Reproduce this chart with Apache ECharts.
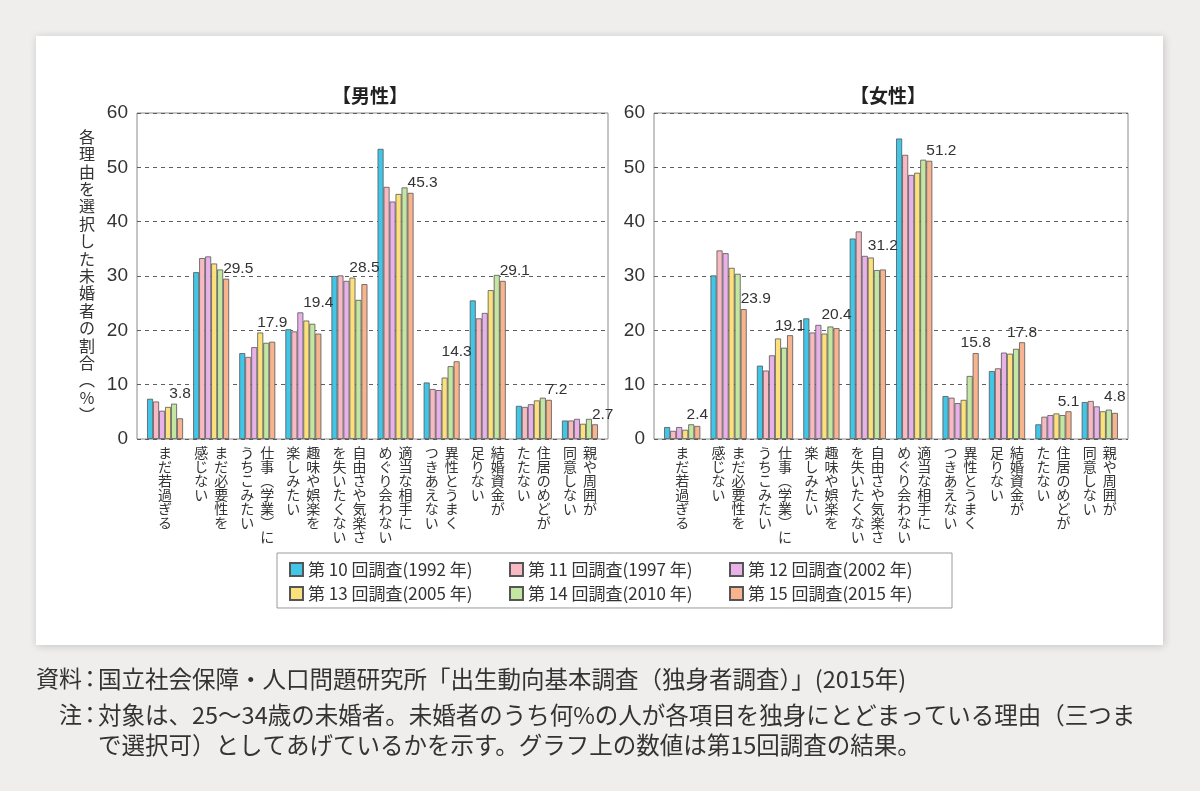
<!DOCTYPE html>
<html><head><meta charset="utf-8">
<script src="https://cdn.jsdelivr.net/npm/echarts@6/dist/echarts.min.js"></script>
<style>html,body{margin:0;padding:0;background:#f0eeec;}#c{width:1200px;height:791px;}</style>
</head><body><div id="c"></div>
<script>
// ---- data ----
const categories = ['まだ若過ぎる','まだ必要性を感じない','仕事（学業）にうちこみたい','趣味や娯楽を楽しみたい','自由さや気楽さを失いたくない','適当な相手にめぐり会わない','異性とうまくつきあえない','結婚資金が足りない','住居のめどがたたない','親や周囲が同意しない'];
const categoryColumns = [['まだ若過ぎる'],['まだ必要性を','感じない'],['仕事︵学業︶に','うちこみたい'],['趣味や娯楽を','楽しみたい'],['自由さや気楽さ','を失いたくない'],['適当な相手に','めぐり会わない'],['異性とうまく','つきあえない'],['結婚資金が','足りない'],['住居のめどが','たたない'],['親や周囲が','同意しない']];
const surveyNames = ['第 10 回調査(1992 年)','第 11 回調査(1997 年)','第 12 回調査(2002 年)','第 13 回調査(2005 年)','第 14 回調査(2010 年)','第 15 回調査(2015 年)'];
const yTickMin = 0, yTickMax = 60, yTickStep = 10;

const male1992 = [7.4, 30.7, 15.8, 20.2, 30.0, 53.4, 10.4, 25.5, 6.1, 3.4];
const male1997 = [6.9, 33.3, 15.1, 19.8, 30.1, 46.4, 9.2, 22.2, 5.9, 3.4];
const male2002 = [5.2, 33.6, 16.9, 23.3, 29.1, 43.7, 9.0, 23.2, 6.4, 3.7];
const male2005 = [5.9, 32.3, 19.6, 21.8, 29.7, 45.1, 11.3, 27.4, 7.1, 2.8];
const male2010 = [6.5, 31.2, 17.7, 21.2, 25.6, 46.3, 13.4, 30.2, 7.6, 3.7];
const male2015 = [3.8, 29.5, 17.9, 19.4, 28.5, 45.3, 14.3, 29.1, 7.2, 2.7];

const female1992 = [2.2, 30.1, 13.5, 22.2, 36.9, 55.3, 7.9, 12.5, 2.7, 6.8];
const female1997 = [1.5, 34.7, 12.6, 19.6, 38.2, 52.3, 7.6, 13.0, 4.1, 7.0];
const female2002 = [2.2, 34.2, 15.4, 21.0, 33.7, 48.6, 6.6, 15.9, 4.4, 6.0];
const female2005 = [1.7, 31.5, 18.5, 19.4, 33.4, 49.0, 7.2, 15.7, 4.7, 5.1];
const female2010 = [2.7, 30.4, 16.8, 20.7, 31.1, 51.4, 11.6, 16.6, 4.4, 5.4];
const female2015 = [2.4, 23.9, 19.1, 20.4, 31.2, 51.2, 15.8, 17.8, 5.1, 4.8];

// label placement style per category: 'c' = centred above group top, 'r' = right of last bar
const maleLabelMode = ['c','r','c','c','c','r','c','r','r','r'];
const femaleLabelMode = ['c','r','c','c','c','r','c','c','c','c'];

const yAxisTitle = '各理由を選択した未婚者の割合︵％︶';
const noteHeads = ['資料', '注', ''];
const noteBodies = [
  '国立社会保障・人口問題研究所「出生動向基本調査（独身者調査）」(2015年)',
  '対象は、25～34歳の未婚者。未婚者のうち何%の人が各項目を独身にとどまっている理由（三つま',
  'で選択可）としてあげているかを示す。グラフ上の数値は第15回調査の結果。'
];

// ---- style ----
const colors = ['#42c6e7','#f8b9c3','#e8b2e9','#fbe07c','#c3e6a1','#f8b48f'];
const JP = 'Noto Sans CJK JP';
const LAT = 'Liberation Sans';

const maleSets = [male1992, male1997, male2002, male2005, male2010, male2015];
const femaleSets = [female1992, female1997, female2002, female2005, female2010, female2015];

function verticalLabel(value, idx) {
  const cols = categoryColumns[idx];
  const right = Array.from(cols[0]);
  const left = cols[1] ? Array.from(cols[1]) : null;
  const n = Math.max(right.length, left ? left.length : 0);
  const rows = [];
  for (let i = 0; i < n; i++) {
    if (left) rows.push('{c|' + (left[i] || '　') + '}{c|' + (right[i] || '　') + '}');
    else rows.push('{c|' + right[i] + '}');
  }
  return rows.join('\n');
}

const frameTop = 113, frameHeight = 326;

function frameYAxis(gridIndex, withName) {
  const ax = {
    type: 'value', gridIndex, min: yTickMin, max: yTickMax, interval: yTickStep,
    axisLine: {show: false}, axisTick: {show: false},
    axisLabel: {fontSize: 19, color: '#333', fontFamily: LAT, margin: 9},
    splitLine: {show: true, lineStyle: {color: '#5e5e5e', width: 1, type: [4, 4]}}
  };
  if (withName) {
    ax.name = Array.from(yAxisTitle).join('\n');
    ax.nameLocation = 'middle';
    ax.nameRotate = 0;
    ax.nameGap = 50;
    ax.nameTextStyle = {fontSize: 16, lineHeight: 17.4, color: '#333', fontFamily: JP, align: 'center'};
  }
  return ax;
}
function dataYAxis(gridIndex) {
  return {type: 'value', gridIndex, min: yTickMin, max: yTickMax, interval: yTickStep, show: false, splitLine: {show: false}};
}
function catXAxis(gridIndex) {
  return {
    type: 'category', gridIndex, data: categories, position: 'bottom',
    axisLine: {show: false}, axisTick: {show: false},
    axisLabel: {
      interval: 0, margin: 7, formatter: verticalLabel, hideOverlap: false,
      rich: {c: {width: 20, align: 'center', fontSize: 14, lineHeight: 14, color: '#333', fontFamily: JP}}
    }
  };
}

function buildSeries(sets, axisIndex) {
  return sets.map((d, k) => ({
    name: surveyNames[k], type: 'bar', xAxisIndex: axisIndex, yAxisIndex: axisIndex,
    data: d.slice(), barGap: '0%', barCategoryGap: '22%',
    itemStyle: {color: colors[k], borderColor: '#555', borderWidth: 0.8},
    label: {show: false},
    emphasis: {disabled: true}
  }));
}

const noteRich = {
  h: {fontSize: 23, color: '#333', fontFamily: JP},
  k: {fontSize: 23, color: '#333', fontFamily: JP, width: 16, align: 'center'},
  t: {fontSize: 23.5, color: '#333', fontFamily: JP}
};
function noteTitle(i, left, top) {
  const head = noteHeads[i] ? '{h|' + noteHeads[i] + '}{k|：}' : '';
  return {text: head + '{t|' + noteBodies[i] + '}', left, top, padding: 0,
    textStyle: {fontSize: 23, fontWeight: 'normal', color: '#333', fontFamily: JP, rich: noteRich}};
}

const option = {
  backgroundColor: '#f0eeec',
  animation: false,
  graphic: [{
    type: 'rect', z: -10, silent: true,
    shape: {x: 36, y: 36, width: 1127, height: 609},
    style: {fill: '#ffffff', shadowBlur: 8, shadowColor: 'rgba(0,0,0,0.18)', shadowOffsetX: 1, shadowOffsetY: 1}
  }],
  title: [
    {text: '【男性】', left: 332, top: 86, padding: 0, textStyle: {fontSize: 19, fontWeight: 'bold', color: '#222', fontFamily: JP}},
    {text: '【女性】', left: 850, top: 86, padding: 0, textStyle: {fontSize: 19, fontWeight: 'bold', color: '#222', fontFamily: JP}},
    noteTitle(0, 36, 667),
    noteTitle(1, 59, 703),
    noteTitle(2, 98, 733)
  ],
  legend: {
    left: 277, top: 553, orient: 'horizontal', width: 690,
    itemWidth: 13, itemHeight: 13, itemGap: 7, icon: 'rect',
    padding: [8, 10, 6, 12], borderColor: '#9a9a9a', borderWidth: 1,
    textStyle: {fontSize: 17, color: '#333', fontFamily: JP, width: 194, lineHeight: 14},
    data: surveyNames, selectedMode: false
  },
  grid: [
    {left: 137, top: frameTop, width: 471, height: frameHeight, show: true, borderColor: '#8a8a8a', borderWidth: 1, backgroundColor: 'transparent', outerBoundsMode: 'none'},
    {left: 654, top: frameTop, width: 474, height: frameHeight, show: true, borderColor: '#8a8a8a', borderWidth: 1, backgroundColor: 'transparent', outerBoundsMode: 'none'},
    {left: 142, top: frameTop, width: 461, height: frameHeight, show: false, outerBoundsMode: 'none'},
    {left: 659, top: frameTop, width: 464, height: frameHeight, show: false, outerBoundsMode: 'none'}
  ],
  xAxis: [
    {type: 'value', gridIndex: 0, show: false, min: 0, max: 1, splitLine: {show: false}},
    {type: 'value', gridIndex: 1, show: false, min: 0, max: 1, splitLine: {show: false}},
    catXAxis(2),
    catXAxis(3)
  ],
  yAxis: [frameYAxis(0, true), frameYAxis(1, false), dataYAxis(2), dataYAxis(3)],
  series: buildSeries(maleSets, 2).concat(buildSeries(femaleSets, 3))
};

const chart = echarts.init(document.getElementById('c'), null, {renderer: 'canvas'});
chart.setOption(option);

function labelItems(sets, modes, yAxisIndex) {
  const last = sets[sets.length - 1];
  return last.map((v, i) => {
    const base = {show: true, position: 'top', distance: 2, fontSize: 15.5, color: '#333', fontFamily: LAT,
      formatter: (p) => p.value.toFixed(1)};
    if (modes[i] === 'r') {
      return {value: v, label: Object.assign(base, {align: 'left', offset: [-3, 0]})};
    }
    const anchor = Math.max.apply(null, sets.slice(2).map(s => s[i]));
    const dy = chart.convertToPixel({yAxisIndex}, anchor) - chart.convertToPixel({yAxisIndex}, v);
    return {value: v, label: Object.assign(base, {align: 'center', offset: [0, dy]})};
  });
}

const upd = [];
for (let k = 0; k < 12; k++) upd.push({});
upd[5] = {data: labelItems(maleSets, maleLabelMode, 2)};
upd[11] = {data: labelItems(femaleSets, femaleLabelMode, 3)};
chart.setOption({series: upd});
</script></body></html>
